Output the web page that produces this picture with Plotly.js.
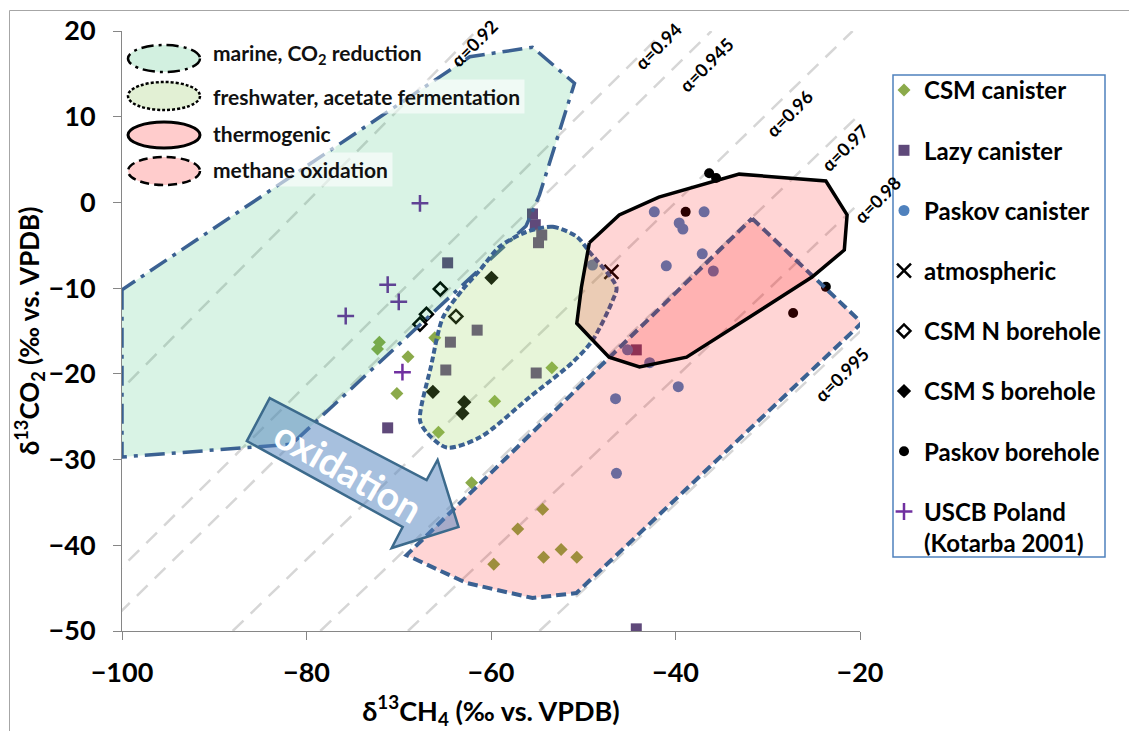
<!DOCTYPE html>
<html><head><meta charset="utf-8">
<script src="https://cdn.plot.ly/plotly-3.0.1.min.js"></script>
<style>html,body{margin:0;padding:0;background:#fff}#chart{width:1129px;height:731px}</style>
</head><body><div id="chart"></div>
<script>
// ---------- data (δ13CH4, δ13CO2) ----------
const csmCanisterX = [-72.1,-72.3,-69.0,-66.1,-70.2,-65.7,-59.6,-53.4,-62.1,-54.4,-57.1,-59.7,-54.3,-52.4,-50.7];
const csmCanisterY = [-16.3,-17.1,-18.0,-15.8,-22.3,-26.8,-23.2,-19.3,-32.7,-35.8,-38.1,-42.2,-41.4,-40.5,-41.4];
const lazyX = [-55.5,-55.2,-54.5,-54.85,-64.7,-61.5,-64.4,-64.9,-55.1,-71.2,-44.25,-44.25];
const lazyY = [-1.35,-2.6,-3.8,-4.7,-7.05,-14.9,-16.3,-19.55,-19.9,-26.3,-17.2,-49.75];
const paskovCanX = [-42.3,-36.9,-39.6,-39.2,-37.1,-41.0,-35.9,-49.0,-45.2,-42.8,-46.5,-39.7,-46.4];
const paskovCanY = [-1.1,-1.1,-2.4,-3.1,-6.0,-7.4,-8.0,-7.3,-17.2,-18.7,-22.9,-21.5,-31.6];
const atmX = [-46.95];
const atmY = [-8.1];
const csmNX = [-65.5,-67.0,-67.7,-63.8];
const csmNY = [-10.1,-13.05,-14.2,-13.3];
const csmSX = [-59.95,-66.3,-62.9,-63.1];
const csmSY = [-8.8,-22.1,-23.3,-24.6];
const paskovBhX = [-36.35,-35.6,-38.9,-23.7,-27.25];
const paskovBhY = [3.4,2.85,-1.1,-9.85,-12.9];
const uscbX = [-67.7,-71.2,-70.0,-75.75,-69.6];
const uscbY = [-0.1,-9.6,-11.6,-13.25,-19.8];

const seriesNames = ['CSM canister','Lazy canister','Paskov canister','atmospheric','CSM N borehole','CSM S borehole','Paskov borehole','USCB Poland<br>(Kotarba 2001)'];

// ---------- field outlines ----------
const marineX = [-100,-100,-81.6,-56.2,-54.75,-50.95,-55.5,-62.3,-100];
const marineY = [-10.2,-29.7,-28.2,-2.75,0.85,13.9,18.1,17.0,-10.2];
const freshX = [-56.2,-53.3,-50.7,-49.3,-46.4,-46.8,-49.0,-51.2,-55.8,-61.2,-64.8,-67.0,-67.7,-66.5,-65.2,-63.1,-61.2,-59.1,-56.2];
const freshY = [-3.45,-2.85,-4.0,-5.8,-9.9,-11.4,-16.1,-18.7,-22.7,-27.4,-28.6,-26.8,-25.4,-19.1,-13.4,-10.2,-7.9,-5.2,-3.45];
const thermoX = [-49.34,-46.1,-41.8,-33.1,-23.7,-21.4,-21.7,-25.2,-32.0,-38.8,-43.9,-47.2,-49.3,-50.7,-50.2,-49.34];
const thermoY = [-4.7,-1.45,0.63,3.3,2.5,-1.45,-5.55,-8.7,-13.4,-18.05,-19.2,-18.05,-15.7,-14.1,-9.9,-4.7];
const oxX = [-31.7,-19.8,-50.74,-55.5,-62.65,-69.15,-31.7];
const oxY = [-1.86,-14.05,-45.57,-46.15,-44.4,-41.15,-1.86];

// ---------- fractionation lines ----------
const alphaLabels = ['α=0.92','α=0.94','α=0.945','α=0.96','α=0.97','α=0.98','α=0.995'];
const alphaLineX0 = [-126.0,-107.0,-102.25,-88.0,-78.5,-69.0,-54.75];
const alphaLineX1 = [-61.6,-41.2,-36.1,-20.8,-10.6,-0.4,14.9];
const alphaLineY = [-50, 20];
const alphaLabelX = [-61.8,-41.87,-36.67,-27.6,-21.7,-20.0,-22.05];
const alphaLabelY = [18.55,18.2,16.0,10.4,6.4,0.3,-20.1];
const alphaLabelShift = [0,0,0,0,0,17,0];

// ---------- arrow ----------
const arrowX = [-83.98,-66.98,-65.79,-63.52,-70.77,-69.58,-86.47];
const arrowY = [-22.82,-32.39,-30.05,-37.87,-40.32,-37.87,-27.84];

const fieldNames = ['marine, CO<sub>2</sub> reduction','freshwater, acetate fermentation','thermogenic','methane oxidation'];

// ---------- traces ----------
const traces = [];
alphaLabels.forEach((l,i)=>{
  traces.push({x:[alphaLineX0[i],alphaLineX1[i]], y:alphaLineY, mode:'lines', type:'scatter', showlegend:false, hoverinfo:'skip',
    line:{color:'#d6d6d6', width:2.5, dash:'15px,10px'}});
});
const mk = (x,y,name,marker)=>({x,y,name,type:'scatter',mode:'markers',marker,legendgroup:name});
traces.push(mk(csmCanisterX,csmCanisterY,seriesNames[0],{symbol:'diamond',size:10,color:'#8BAA4A'}));
traces.push(mk(lazyX,lazyY,seriesNames[1],{symbol:'square',size:11,color:'#5F497A'}));
traces.push(mk(paskovCanX,paskovCanY,seriesNames[2],{symbol:'circle',size:11,color:'#4F81BD'}));
traces.push(mk(atmX,atmY,seriesNames[3],{symbol:'x-thin-open',size:14,color:'#000',line:{width:2.5,color:'#000'}}));
traces.push(mk(csmNX,csmNY,seriesNames[4],{symbol:'diamond',size:10,color:'#fff',line:{width:2.5,color:'#000'}}));
traces.push(mk(csmSX,csmSY,seriesNames[5],{symbol:'diamond',size:11,color:'#000'}));
traces.push(mk(paskovBhX,paskovBhY,seriesNames[6],{symbol:'circle',size:10,color:'#000'}));
traces.push(mk(uscbX,uscbY,seriesNames[7],{symbol:'cross-thin-open',size:12,color:'#7030A0',line:{width:2.5,color:'#7030A0'}}));

const poly = (x,y,fill,line,shape)=>({x,y,type:'scatter',mode:'lines',fill:'toself',fillcolor:fill,line:Object.assign({shape:shape||'linear'},line),showlegend:false,hoverinfo:'skip'});
traces.push(poly(marineX,marineY,'rgba(0,176,80,0.15)',{color:'#3B6192',width:3.5,dash:'20px,7px,4px,7px'}));
traces.push(poly(freshX,freshY,'rgba(146,208,80,0.22)',{color:'#3B6192',width:4,dash:'6px,3px',smoothing:0.8},'spline'));
traces.push(poly(oxX,oxY,'rgba(255,0,0,0.165)',{color:'#3B6192',width:4,dash:'10px,5px'}));
traces.push(poly(thermoX,thermoY,'rgba(255,0,0,0.165)',{color:'#000',width:3.5}));

// ---------- layout ----------
const px2paperX = p => (p-122)/738;
const px2paperY = p => (631-p)/600;

const shapes = [];
// outer chart border
shapes.push({type:'rect',xref:'paper',yref:'paper',x0:px2paperX(9.5),x1:2,y0:px2paperY(10.5),y1:-1,line:{color:'#a6a6a6',width:1},fillcolor:'rgba(0,0,0,0)',layer:'below'});
// legend box
shapes.push({type:'rect',xref:'paper',yref:'paper',x0:px2paperX(893),x1:px2paperX(1105),y0:px2paperY(557),y1:px2paperY(75),line:{color:'#4F81BD',width:1.5},fillcolor:'rgba(0,0,0,0)'});
// arrow
let arrowPath = 'M '+arrowX.map((v,i)=>v+','+arrowY[i]).join(' L ')+' Z';
shapes.push({type:'path',xref:'x',yref:'y',path:arrowPath,fillcolor:'rgba(79,129,189,0.5)',line:{color:'#3C6A8C',width:2.5},layer:'above'});
// field legend ellipses
const ellTop = [45,82,122,157], ellBot=[72,110,148,185];
const ellFill = ['#D2F0E0','#E2F0D4','#FFCCCC','#FFCCCC'];
const ellDash = ['12px,5px,3px,5px','3px,2px','solid','9px,5px'];
const ellWidth = [2.5,2.5,3,2.5];
for(let i=0;i<4;i++){
  shapes.push({type:'circle',xref:'paper',yref:'paper',x0:px2paperX(128),x1:px2paperX(200),y0:px2paperY(ellBot[i]),y1:px2paperY(ellTop[i]),
    fillcolor:ellFill[i],line:{color:'#000',width:ellWidth[i],dash:ellDash[i]},layer:'above'});
}

const annotations = [];
const textY = [54,97,133,169];
for(let i=0;i<4;i++){
  annotations.push({xref:'paper',yref:'paper',x:px2paperX(208),y:px2paperY(textY[i]),xanchor:'left',yanchor:'middle',text:fieldNames[i],showarrow:false,
    font:{family:'Lato',size:21,color:'#111',weight:700},bgcolor:'rgba(255,255,255,0.6)',borderpad:4});
}
alphaLabels.forEach((l,i)=>{
  annotations.push({x:alphaLabelX[i],y:alphaLabelY[i],xshift:alphaLabelShift[i],text:l,showarrow:false,textangle:-45,font:{family:'Lato',size:18,color:'#000',weight:700}});
});
annotations.push({x:-75.43,y:-31.34,text:'oxidation',showarrow:false,textangle:30,font:{family:'Lato',size:39,color:'#fff',weight:700}});

const tickFont = {family:'Lato',size:27,color:'#000',weight:700};
const layout = {
  width:1129,height:731,
  margin:{l:122,r:269,t:31,b:100},
  paper_bgcolor:'#fff',plot_bgcolor:'#fff',
  xaxis:{range:[-100,-20],dtick:20,tick0:-100,showgrid:false,zeroline:false,showline:true,linecolor:'#868686',linewidth:1,
    ticks:'outside',ticklen:8,tickcolor:'#868686',tickfont:tickFont,ticklabelstandoff:10,
    title:{text:'δ<sup>13</sup>CH<sub>4</sub> (‰ vs. VPDB)',font:{family:'Lato',size:27,color:'#000',weight:700},standoff:14}},
  yaxis:{range:[-50,20],dtick:10,tick0:-50,showgrid:false,zeroline:false,showline:true,linecolor:'#868686',linewidth:1,
    ticks:'outside',ticklen:8,tickcolor:'#868686',tickfont:tickFont,ticklabelstandoff:12,
    title:{text:'δ<sup>13</sup>CO<sub>2</sub> (‰ vs. VPDB)',font:{family:'Lato',size:26,color:'#000',weight:700},standoff:0}},
  showlegend:true,
  legend:{x:px2paperX(884),y:px2paperY(68),xanchor:'left',yanchor:'top',bgcolor:'rgba(0,0,0,0)',borderwidth:0,
    font:{family:'Lato',size:24,color:'#000',weight:700},tracegroupgap:26,valign:'top'},
  shapes,annotations
};
Plotly.newPlot('chart',traces,layout,{displayModeBar:false,staticPlot:true});
</script></body></html>
